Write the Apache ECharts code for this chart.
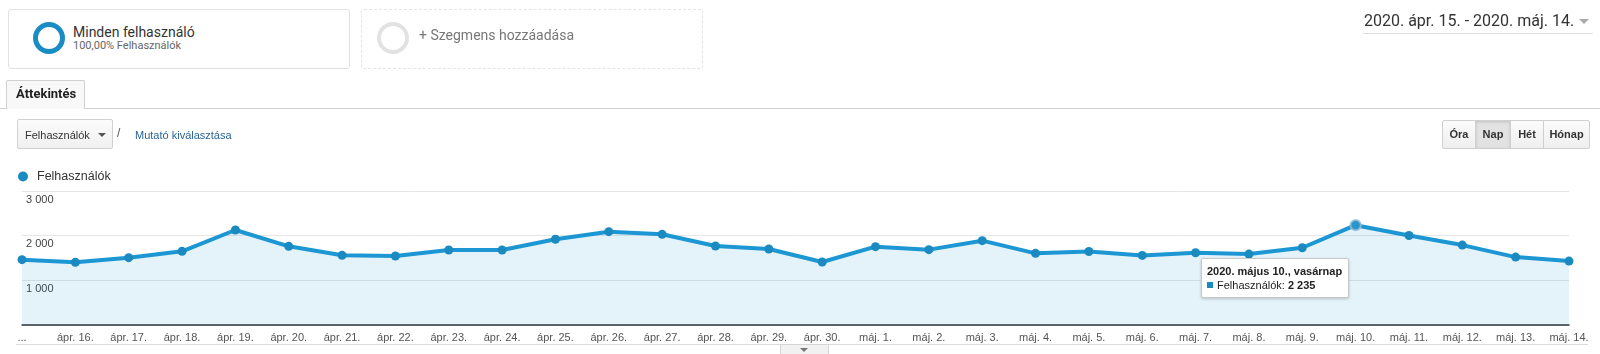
<!DOCTYPE html>
<html lang="hu">
<head>
<meta charset="utf-8">
<title>Felhasználók</title>
<script src="https://cdn.jsdelivr.net/npm/echarts@6/dist/echarts.min.js"></script>
<style>
  html, body { margin: 0; padding: 0; background: #fff; }
  body { width: 1600px; height: 354px; position: relative; overflow: hidden; font-family: "Liberation Sans", Arial, sans-serif; color: #333; }
  .abs { position: absolute; }
  #chart { position: absolute; left: 0; top: 0; width: 1600px; height: 354px; z-index: 0; }
  .ui { z-index: 2; }
  .card { box-sizing: border-box; width: 342px; height: 60px; top: 9px; border-radius: 3px; background: #fff; }
  .ring { box-sizing: border-box; width: 32px; height: 32px; border-radius: 50%; }
  .btn { box-sizing: border-box; top: 120px; height: 29px; border: 1px solid #cfcfcf; background: linear-gradient(#fbfbfb, #efefef);
         font: bold 11px "Liberation Sans", Arial, sans-serif; color: #333; text-align: center; line-height: 27px; }
</style>
</head>
<body>
  <!-- szegmensek -->
  <div class="abs ui card" style="left:8px;border:1px solid #e2e2e2;"></div>
  <div class="abs ui ring" style="left:33px;top:22px;border:5px solid #1a8cc4;"></div>
  <div class="abs ui" style="left:73px;top:23px;font:14px Roboto, sans-serif;color:#333;line-height:18px;">Minden felhasználó</div>
  <div class="abs ui" style="left:73px;top:39px;font:11px Roboto, sans-serif;color:#666;line-height:14px;">100,00% Felhasználók</div>

  <div class="abs ui card" style="left:361px;border:1px dashed #e4e4e4;"></div>
  <div class="abs ui ring" style="left:377px;top:22px;border:4px solid #e2e2e2;"></div>
  <div class="abs ui" style="left:419px;top:26px;font:14px Roboto, sans-serif;color:#777;line-height:18px;">+ Szegmens hozzáadása</div>

  <!-- dátumtartomány -->
  <div class="abs ui" style="left:1364px;top:11px;font:16px Roboto, sans-serif;color:#333;line-height:20px;white-space:nowrap;">2020. ápr. 15. - 2020. máj. 14.</div>
  <div class="abs ui" style="left:1579px;top:19px;width:0;height:0;border-left:5px solid transparent;border-right:5px solid transparent;border-top:5px solid #aaa;"></div>
  <div class="abs ui" style="left:1363px;top:33px;width:230px;height:1px;background:#ddd;"></div>

  <!-- fül -->
  <div class="abs ui" style="left:0;top:108px;width:1600px;height:1px;background:#d2d2d2;"></div>
  <div class="abs ui" style="box-sizing:border-box;left:6px;top:80px;width:79px;height:29px;border:1px solid #d0d0d0;border-bottom:none;border-radius:2px 2px 0 0;background:#f8f8f8;"></div>
  <div class="abs ui" style="left:16px;top:86px;font:bold 13px Roboto, sans-serif;color:#222;line-height:16px;">Áttekintés</div>

  <!-- mutató választó -->
  <div class="abs ui" style="box-sizing:border-box;left:17px;top:119px;width:96px;height:30px;border:1px solid #d0d0d0;border-radius:2px;background:linear-gradient(#fbfbfb,#f0f0f0);"></div>
  <div class="abs ui" style="left:25px;top:128px;font:11px 'Liberation Sans', Arial, sans-serif;color:#333;line-height:14px;">Felhasználók</div>
  <div class="abs ui" style="left:98px;top:133px;width:0;height:0;border-left:4px solid transparent;border-right:4px solid transparent;border-top:4px solid #555;"></div>
  <div class="abs ui" style="left:117px;top:126px;font:12px 'Liberation Sans', Arial, sans-serif;color:#555;line-height:15px;">/</div>
  <div class="abs ui" style="left:135px;top:128px;font:11px 'Liberation Sans', Arial, sans-serif;color:#2a6496;line-height:14px;">Mutató kiválasztása</div>

  <!-- időszak gombok -->
  <div class="abs ui btn" style="left:1442px;width:34px;border-radius:2px 0 0 2px;">Óra</div>
  <div class="abs ui btn" style="left:1475px;width:36px;background:#e2e2e2;box-shadow:inset 0 1px 3px rgba(0,0,0,.15);">Nap</div>
  <div class="abs ui btn" style="left:1510px;width:34px;">Hét</div>
  <div class="abs ui btn" style="left:1543px;width:47px;border-radius:0 2px 2px 0;">Hónap</div>

  <div id="chart"></div>

  <!-- alsó elválasztó -->
  <div class="abs ui" style="left:16px;top:344px;width:1572px;height:1px;background:#dcdcdc;"></div>
  <div class="abs ui" style="box-sizing:border-box;left:780px;top:344px;width:49px;height:12px;border:1px solid #d5d5d5;background:#f1f1f1;"></div>
  <div class="abs ui" style="left:800px;top:348px;width:0;height:0;border-left:4px solid transparent;border-right:4px solid transparent;border-top:4px solid #777;"></div>

<script>
// napi felhasználók, 2020. ápr. 15. - máj. 14.
const days = [
  'ápr. 15.', 'ápr. 16.', 'ápr. 17.', 'ápr. 18.', 'ápr. 19.', 'ápr. 20.', 'ápr. 21.', 'ápr. 22.',
  'ápr. 23.', 'ápr. 24.', 'ápr. 25.', 'ápr. 26.', 'ápr. 27.', 'ápr. 28.', 'ápr. 29.', 'ápr. 30.',
  'máj. 1.', 'máj. 2.', 'máj. 3.', 'máj. 4.', 'máj. 5.', 'máj. 6.', 'máj. 7.', 'máj. 8.',
  'máj. 9.', 'máj. 10.', 'máj. 11.', 'máj. 12.', 'máj. 13.', 'máj. 14.'
]
const users = [
  1463, 1403, 1507, 1649, 2127, 1761, 1560, 1545, 1679, 1679, 1920, 2090, 2030, 1769, 1701,
  1410, 1754, 1687, 1888, 1604, 1646, 1558, 1617, 1588, 1729, 2235, 2004, 1789, 1520, 1431
]
const yTicks = [0, 1000, 2000, 3000]
const monthsHu = ['január', 'február', 'március', 'április', 'május', 'június', 'július', 'augusztus', 'szeptember', 'október', 'november', 'december']
const weekdaysHu = ['vasárnap', 'hétfő', 'kedd', 'szerda', 'csütörtök', 'péntek', 'szombat']
const hoverIndex = 25

const blue = '#1a8ac0'
const fmt = (v) => String(v).replace(/\B(?=(\d{3})+(?!\d))/g, ' ')

const chart = echarts.init(document.getElementById('chart'), null, { renderer: 'canvas' })

chart.setOption({
  animation: false,
  textStyle: { fontFamily: '"Liberation Sans", Arial, sans-serif' },
  grid: { left: 22, right: 31, top: 191, bottom: 29, containLabel: false },
  legend: {
    left: 13,
    top: 165,
    icon: 'circle',
    itemWidth: 18,
    itemHeight: 10,
    textStyle: { fontSize: 12.5, color: '#333' },
    data: ['Felhasználók']
  },
  tooltip: {
    trigger: 'item',
    triggerOn: 'none',
    alwaysShowContent: true,
    transitionDuration: 0,
    backgroundColor: '#fff',
    borderColor: '#c8c8c8',
    borderWidth: 1,
    borderRadius: 2,
    padding: [5, 6, 5, 5],
    extraCssText: 'box-shadow:0 1px 3px rgba(0,0,0,0.2);',
    textStyle: { fontSize: 11, color: '#222', fontFamily: '"Liberation Sans", Arial, sans-serif' },
    position: (pt) => [pt[0] - 155, pt[1] + 33],
    formatter: (p) => {
      const d = new Date(2020, 3, 15 + p.dataIndex)
      const title = `${d.getFullYear()}. ${monthsHu[d.getMonth()]} ${d.getDate()}., ${weekdaysHu[d.getDay()]}`
      return `<div style="font-weight:bold;line-height:14px;">${title}</div>` +
        `<div style="line-height:14px;"><span style="display:inline-block;width:6px;height:6px;background:${blue};margin-right:4px;position:relative;top:-1px;"></span>` +
        `Felhasználók: <b>${fmt(p.value)}</b></div>`
    }
  },
  xAxis: {
    type: 'category',
    boundaryGap: false,
    data: days,
    axisLine: { lineStyle: { color: '#333', width: 1.5 } },
    axisTick: { show: false },
    axisLabel: {
      interval: 0,
      margin: 7,
      fontSize: 11,
      color: '#555',
      formatter: (v, i) => (i === 0 ? '...' : v)
    }
  },
  yAxis: {
    type: 'value',
    min: yTicks[0],
    max: yTicks[yTicks.length - 1],
    interval: 1000,
    axisLine: { show: false },
    axisTick: { show: false },
    splitLine: { lineStyle: { color: '#e6e6e6' } },
    axisLabel: {
      inside: true,
      margin: 4,
      verticalAlign: 'top',
      padding: [3, 0, 0, 0],
      showMinLabel: false,
      fontSize: 11,
      color: '#444',
      formatter: (v) => fmt(v)
    }
  },
  series: [
    {
      name: 'Felhasználók',
      type: 'line',
      data: users,
      symbol: 'circle',
      symbolSize: 9,
      lineStyle: { color: blue, width: 4 },
      itemStyle: { color: blue },
      // félig átlátszó kitöltés, hogy az 1 000-es rácsvonal és felirat látszódjon
      areaStyle: { color: '#058dc7', opacity: 0.11 },
      emphasis: {
        scale: 1.15,
        lineStyle: { width: 4 },
        areaStyle: { color: '#058dc7', opacity: 0.11 },
        itemStyle: { color: '#2b95c9', borderColor: 'rgba(150,190,215,0.8)', borderWidth: 2 }
      }
    }
  ]
})

// a máj. 10. pont kiemelve, tooltip nyitva
chart.dispatchAction({ type: 'highlight', seriesIndex: 0, dataIndex: hoverIndex })
chart.dispatchAction({ type: 'showTip', seriesIndex: 0, dataIndex: hoverIndex })
</script>
</body>
</html>
